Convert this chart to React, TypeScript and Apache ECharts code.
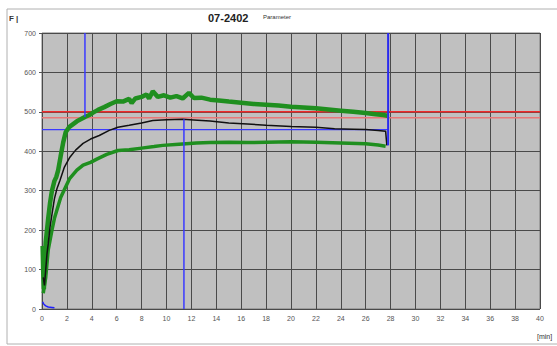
import React, { useEffect, useRef } from "react";
import * as echarts from "echarts";

// Time axis [min] and force values
const upperT = [0.05, 0.1, 0.15, 0.2, 0.3, 0.4, 0.5, 0.65, 0.8, 1.0, 1.15, 1.3, 1.5, 1.7, 1.9, 2.2, 2.5, 2.8, 3.1, 3.45, 3.8, 4.1, 4.5, 5.0, 5.5, 6.0, 6.5, 7.0, 7.2, 7.5, 8.0, 8.4, 8.6, 8.9, 9.3, 9.8, 10.3, 10.8, 11.3, 11.8, 12.2, 12.8, 13.5, 14.2, 15.0, 16.0, 17.0, 18.0, 19.0, 20.0, 21.0, 22.0, 23.0, 24.0, 25.0, 26.0, 26.8, 27.4, 27.75];
const upperV = [160, 90, 50, 110, 170, 200, 230, 270, 300, 325, 335, 352, 388, 422, 448, 462, 469, 476, 481, 487, 492, 498, 505, 512, 520, 527, 526, 533, 522, 534, 538, 544, 534, 552, 538, 542, 536, 540, 534, 548, 535, 536, 531, 529, 526, 523, 520, 518, 516, 513, 511, 509, 506, 503, 500, 497, 494, 492, 490];

const meanT = [0.1, 0.2, 0.3, 0.4, 0.5, 0.64, 0.8, 1.0, 1.2, 1.44, 1.8, 2.24, 2.7, 3.3, 3.9, 4.6, 5.4, 6.1, 7.0, 8.0, 8.9, 10.0, 11.3, 12.5, 13.5, 15.0, 16.5, 18.0, 20.0, 22.0, 23.5, 25.0, 26.0, 27.0, 27.6, 27.7];
const meanV = [80, 60, 100, 140, 165, 207, 240, 280, 305, 326, 360, 385, 403, 420, 431, 440, 453, 461, 466, 472, 478, 480, 481, 479, 477, 472, 469, 466, 463, 461, 457, 456, 455, 453, 451, 415];

const lowerT = [0.1, 0.2, 0.3, 0.5, 0.8, 1.0, 1.5, 2.2, 2.8, 3.3, 3.9, 4.4, 5.2, 6.1, 7.0, 8.0, 9.0, 9.7, 11.0, 12.4, 13.5, 15.0, 16.5, 18.0, 20.0, 22.0, 24.0, 26.0, 27.0, 27.6];
const lowerV = [40, 60, 80, 150, 200, 230, 283, 330, 352, 365, 372, 380, 392, 402, 404, 408, 412, 415, 418, 421, 422, 423, 422, 423, 424, 423, 421, 419, 416, 413];

const blueT = [0.05, 0.15, 0.3, 0.5, 0.8, 1.0];
const blueV = [18, 12, 8, 5, 4, 3];

// reference lines
const redLimit = 500;
const pinkLimit = 485;
const blueLevel = 455;
const endTime = 27.8;
const crossT1 = 3.45;
const crossV1 = 487;
const peakT = 11.4;
const peakV = 481;
const endV = 415;

const title = "07-2402";
const subTitle = "Parameter";
const yUnit = "F |";
const xUnit = "[min]";

const pairs = (t: number[], v: number[]) => t.map((x, i) => [x, v[i]]);

export default function App() {
  const ref = useRef<HTMLDivElement>(null);
  useEffect(() => {
    const chart = echarts.init(ref.current!, undefined, { renderer: "svg" });
    const refLine = (data: number[][], color: string, width = 1.5) => ({
      type: "line",
      data,
      symbol: "none",
      silent: true,
      lineStyle: { color, width },
    });
    chart.setOption({
      animation: false,
      backgroundColor: "#ffffff",
      textStyle: { fontFamily: "Liberation Sans" },
      grid: {
        left: 42,
        right: 17,
        top: 33,
        bottom: 37,
        show: true,
        backgroundColor: "#c0c0c0",
        borderColor: "#7a7a7a",
        borderWidth: 1,
      },
      xAxis: {
        type: "value",
        min: 0,
        max: 40,
        interval: 2,
        axisLine: { show: false },
        axisTick: { show: false },
        axisLabel: { fontSize: 7, color: "#555", margin: 6 },
        splitLine: { show: true, lineStyle: { color: "#4a4a4a", width: 1 } },
      },
      yAxis: {
        type: "value",
        min: 0,
        max: 700,
        interval: 100,
        axisLine: { show: false },
        axisTick: { show: true, length: 3, lineStyle: { color: "#555" } },
        axisLabel: { fontSize: 7, color: "#555", margin: 6 },
        splitLine: { show: true, lineStyle: { color: "#4a4a4a", width: 1 } },
      },
      graphic: [
        {
          type: "rect",
          shape: { x: 7, y: 9, width: 600, height: 335 },
          style: { fill: "none", stroke: "#b0b0b0", lineWidth: 1 },
          silent: true,
        },
        {
          type: "text",
          x: 208,
          y: 12,
          style: { text: title, fontSize: 11, fontWeight: "bold", fill: "#222", fontFamily: "Liberation Sans" },
        },
        {
          type: "text",
          x: 263,
          y: 14,
          style: { text: subTitle, fontSize: 6, fill: "#333", fontFamily: "Liberation Sans" },
        },
        {
          type: "text",
          x: 9,
          y: 14,
          style: { text: yUnit, fontSize: 8, fontWeight: "bold", fill: "#333", fontFamily: "Liberation Sans" },
        },
        {
          type: "text",
          x: 537,
          y: 333,
          style: { text: xUnit, fontSize: 7, fill: "#333", fontFamily: "Liberation Sans" },
        },
      ],
      series: [
        refLine([[0, pinkLimit], [40, pinkLimit]], "#e87878", 1.3),
        refLine([[0, redLimit], [40, redLimit]], "#ee2a2a", 1.5),
        refLine([[0, blueLevel], [endTime, blueLevel]], "#3a3aff", 1.2),
        {
          type: "line",
          data: pairs(upperT, upperV),
          symbol: "none",
          lineStyle: { color: "#1f8f1f", width: 4.5 },
        },
        {
          type: "line",
          data: pairs(lowerT, lowerV),
          symbol: "none",
          lineStyle: { color: "#1f8f1f", width: 3.5 },
        },
        {
          type: "line",
          data: pairs(meanT, meanV),
          symbol: "none",
          lineStyle: { color: "#111111", width: 1.5 },
        },
        {
          type: "line",
          data: pairs(blueT, blueV),
          symbol: "none",
          lineStyle: { color: "#2020ff", width: 1.5 },
        },
        refLine([[crossT1, 700], [crossT1, crossV1]], "#3a3aff", 1.5),
        refLine([[peakT, 0], [peakT, peakV]], "#3a3aff", 1.5),
        refLine([[endTime, 700], [endTime, endV]], "#2a2aee", 2),
      ],
    });
    return () => chart.dispose();
  }, []);
  return (
    <div
      ref={ref}
      style={{ position: "fixed", left: 0, top: 0, width: 557, height: 346 }}
    />
  );
}
